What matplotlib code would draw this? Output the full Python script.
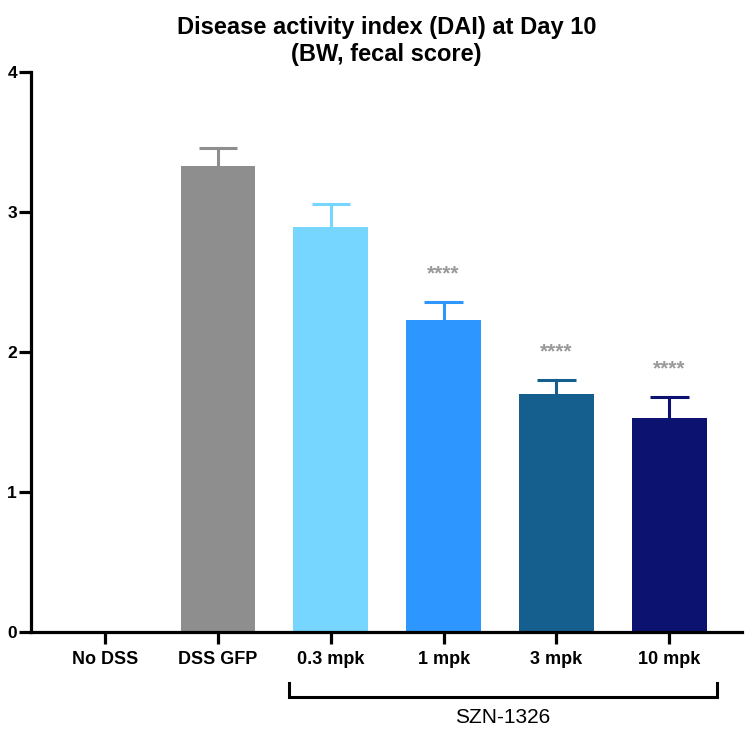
import matplotlib.pyplot as plt
import numpy as np

plt.rcParams['font.family'] = ['Liberation Sans', 'DejaVu Sans']

groups = ["No DSS", "DSS GFP", "0.3 mpk", "1 mpk", "3 mpk", "10 mpk"]
means = [0.0, 3.33, 2.89, 2.23, 1.70, 1.53]
errs = [0.0, 0.125, 0.17, 0.13, 0.10, 0.15]
colors = ["#ffffff", "#8e8e8e", "#76d6ff", "#2e96ff", "#155f8f", "#0b1270"]
stars = ["", "", "", "****", "****", "****"]
bracket_label = "SZN-1326"

fig = plt.figure(figsize=(7.56, 7.39), dpi=100)
ax = fig.add_axes([0.041, 0.1448, 0.94, 0.7578])

x = np.arange(len(groups))
cap = 0.17
for i in x:
    if means[i] == 0:
        continue
    ax.bar(i, means[i], width=0.66, color=colors[i], zorder=2)
    top = means[i] + errs[i]
    # upper error bar only, drawn by hand
    ax.plot([i, i], [means[i], top], color=colors[i], lw=2.2, zorder=1)
    ax.plot([i - cap, i + cap], [top, top], color=colors[i], lw=2.2,
            zorder=1, solid_capstyle="butt")
    if stars[i]:
        ax.text(i, top + 0.13, stars[i], ha="center", va="bottom",
                color="#9a9a9a", fontsize=15, fontweight="bold")

ax.set_xlim(-0.655, 5.64)
ax.set_ylim(0, 4)
ax.set_yticks([0, 1, 2, 3, 4])
ax.set_xticks(x)
ax.set_xticklabels(groups, fontweight="bold", fontsize=13)
for lab in ax.get_yticklabels():
    lab.set_fontweight("bold")
    lab.set_fontsize(12.5)

for s in ["top", "right"]:
    ax.spines[s].set_visible(False)
for s in ["left", "bottom"]:
    ax.spines[s].set_linewidth(2.3)
ax.tick_params(axis="both", width=2.3, length=8.5)
ax.tick_params(axis="y", pad=1.5)
ax.tick_params(axis="x", pad=5)

ax.set_title("Disease activity index (DAI) at Day 10\n(BW, fecal score)",
             fontweight="bold", fontsize=17, pad=8, linespacing=1.2)

# bracket under the SZN-1326 groups
bx0, bx1 = 1.63, 5.42
by, btop = -0.465, -0.365
ax.plot([bx0, bx0, bx1, bx1], [btop, by, by, btop], color="black", lw=2.2,
        clip_on=False, solid_joinstyle="miter")
ax.text((bx0 + bx1) / 2, by - 0.145, bracket_label, ha="center", va="center",
        fontsize=15)

fig.savefig("out.png", dpi=100)
